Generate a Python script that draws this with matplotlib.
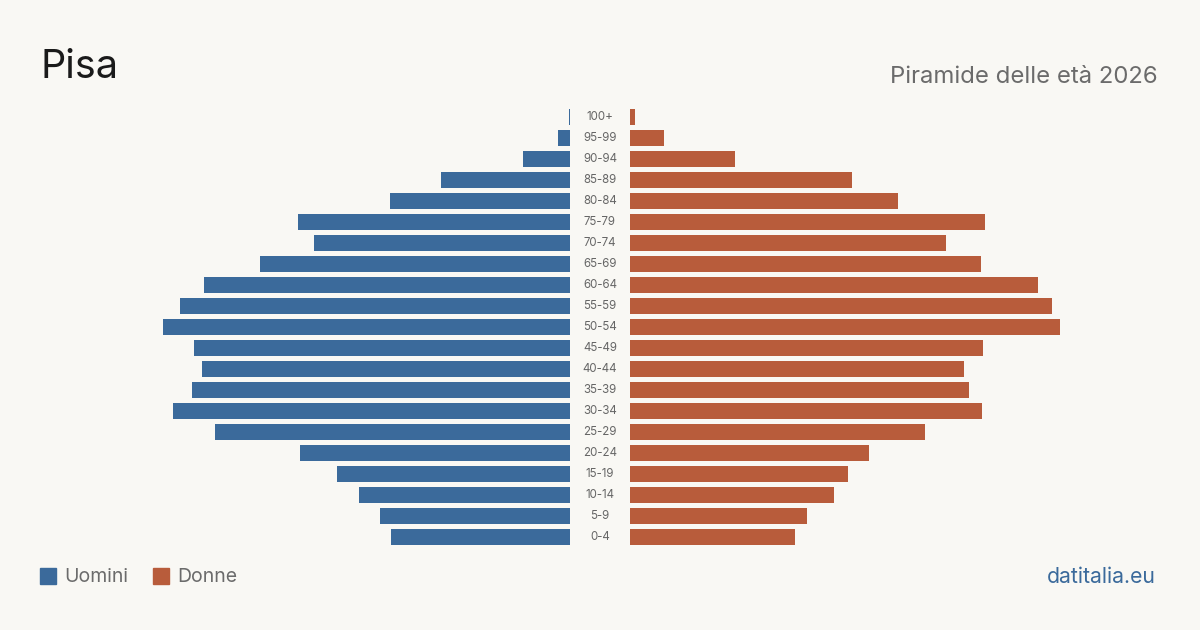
import matplotlib.pyplot as plt
from matplotlib.patches import Rectangle

plt.rcParams['font.family'] = ['Inter', 'DejaVu Sans']

# Dati: popolazione per classe di età (stime)
classi = ['0-4', '5-9', '10-14', '15-19', '20-24', '25-29', '30-34', '35-39',
          '40-44', '45-49', '50-54', '55-59', '60-64', '65-69', '70-74',
          '75-79', '80-84', '85-89', '90-94', '95-99', '100+']
uomini = [1460, 1550, 1720, 1900, 2200, 2895, 3235, 3080, 3000, 3065, 3315,
          3180, 2985, 2525, 2085, 2215, 1470, 1050, 385, 100, 8]
donne = [1345, 1445, 1665, 1775, 1950, 2405, 2870, 2765, 2720, 2875, 3505,
         3440, 3325, 2860, 2575, 2895, 2185, 1810, 855, 275, 40]

sfondo = '#f9f8f4'
blu = '#3b6a9b'
arancio = '#b85c3b'

W, H = 1200, 630
fig = plt.figure(figsize=(12, 6.3), dpi=100, facecolor=sfondo)

# scala comune: ~8.15 persone per pixel
xmax = 3600
larg = xmax / 8.15
bottom = 1 - 547.5 / H
top = 1 - 106.5 / H

ax_l = fig.add_axes([(570 - larg) / W, bottom, larg / W, top - bottom])
ax_r = fig.add_axes([630 / W, bottom, larg / W, top - bottom])

y = range(len(classi))
ax_l.barh(y, uomini, height=0.8, color=blu)
ax_r.barh(y, donne, height=0.8, color=arancio)
ax_l.set_xlim(xmax, 0)
ax_r.set_xlim(0, xmax)
for ax in (ax_l, ax_r):
    ax.set_ylim(-0.5, len(classi) - 0.5)
    ax.axis('off')
    ax.set_facecolor('none')

# etichette delle classi al centro
for i, c in enumerate(classi):
    yy = bottom + (i + 0.5) / len(classi) * (top - bottom)
    fig.text(600 / W, yy, c, ha='center', va='center', fontsize=8.3,
             color='#666666')

fig.text(40 / W, 1 - 67 / H, 'Pisa', fontsize=28.5, color='#1a1a1a',
         va='center', ha='left')
fig.text(1158 / W, 1 - 77 / H, 'Piramide delle età 2026', fontsize=17.2,
         color='#6b6b6b', va='center', ha='right')

# legenda
fig.patches.append(Rectangle((40 / W, 1 - 584 / H), 16 / W, 16 / H,
                             transform=fig.transFigure, color=blu))
fig.text(64 / W, 1 - 577 / H, 'Uomini', fontsize=14, color='#6b6b6b',
         va='center', ha='left')
fig.patches.append(Rectangle((153 / W, 1 - 584 / H), 16 / W, 16 / H,
                             transform=fig.transFigure, color=arancio))
fig.text(177 / W, 1 - 577 / H, 'Donne', fontsize=14, color='#6b6b6b',
         va='center', ha='left')

fig.text(1156 / W, 1 - 577 / H, 'datitalia.eu', fontsize=15.3, color=blu,
         va='center', ha='right')

fig.savefig('out.png', dpi=100, facecolor=sfondo)
